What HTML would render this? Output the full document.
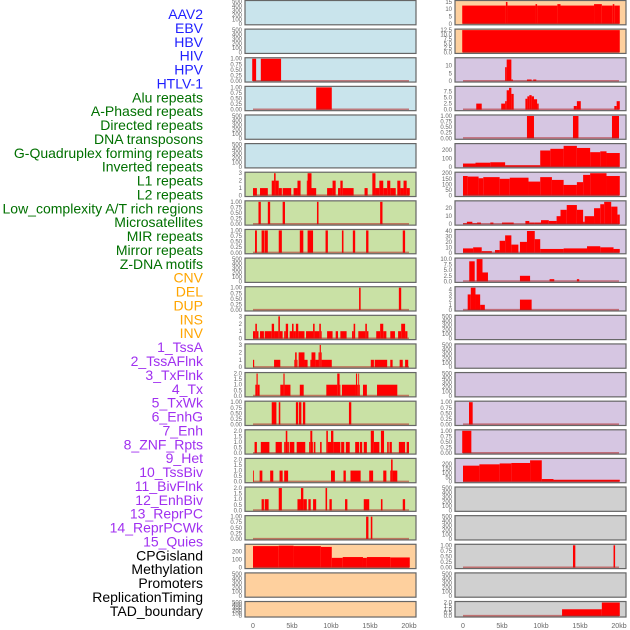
<!DOCTYPE html>
<html><head><meta charset="utf-8">
<style>
html,body{margin:0;padding:0;background:#fff;}
svg{display:block;font-family:"Liberation Sans",sans-serif;}
</style></head>
<body>
<svg id="chart" width="630" height="630" viewBox="0 0 630 630"></svg>
<script>
// ---------- data ----------
const trackLabels = ["AAV2","EBV","HBV","HIV","HPV","HTLV-1","Alu repeats","A-Phased repeats","Directed repeats","DNA transposons","G-Quadruplex forming repeats","Inverted repeats","L1 repeats","L2 repeats","Low_complexity A/T rich regions","Microsatellites","MIR repeats","Mirror repeats","Z-DNA motifs","CNV","DEL","DUP","INS","INV","1_TssA","2_TssAFlnk","3_TxFlnk","4_Tx","5_TxWk","6_EnhG","7_Enh","8_ZNF_Rpts","9_Het","10_TssBiv","11_BivFlnk","12_EnhBiv","13_ReprPC","14_ReprPCWk","15_Quies","CPGisland","Methylation","Promoters","ReplicationTiming","TAD_boundary"];
const labelGroups = [6,13,5,15,5];
const groupColors = ["#1f1fff","#007000","#ffa500","#a030f0","#000000"];
const xTickValues = [0,5,10,15,20];
const xTickLabels = ["0","5kb","10kb","15kb","20kb"];

const T500 = ["0","100","200","300","400","500"];
const T1 = ["0.00","0.25","0.50","0.75","1.00"];
const T3 = ["0","1","2","3"];
const T2 = ["0.0","0.5","1.0","1.5","2.0"];

// segments: [startKb, endKb, value]
const L03 = [[-0.1,0.4,1],[1.0,3.6,1]];
const L04 = [[8.1,10.1,1]];
const L07 = [[0,0.5,1],[0.9,1.9,1],[2.4,2.7,2],[2.7,2.9,3],[2.9,3.3,2],[3.3,3.7,1],[3.8,4.9,1],[5.2,5.7,1],[5.7,6.1,2],[6.9,7.0,2],[7.0,7.5,3],[7.5,8.1,1],[9.5,10.2,1],[10.2,10.6,2],[10.9,11.2,1],[11.2,11.5,2],[11.5,12.9,1],[14.3,14.7,1],[15.3,15.7,3],[15.7,16.2,1],[16.2,16.7,2],[16.7,17.2,1],[17.2,17.6,2],[17.6,18.3,1],[18.5,18.9,2],[18.9,19.3,1],[19.3,19.7,2],[19.7,20.1,1]];
const L08 = [[0.7,1.0,1],[1.9,2.2,1],[3.8,4.1,1],[8.2,8.4,1],[16.3,16.6,1]];
const L09 = [[0.26,0.5,1],[1.1,1.45,1],[1.5,1.9,1],[3.3,3.7,1],[6.0,6.45,1],[7.0,7.7,1],[9.3,9.6,1],[11.4,11.6,1],[12.8,13.1,1],[14.5,14.8,1],[19.2,19.5,1]];
const L11 = [[13.6,13.8,1],[18.7,19.0,1]];
const L12 = [[0,0.3,1],[0.3,0.5,2],[0.5,0.7,1],[0.9,1.4,1],[1.5,2.4,1],[2.4,2.7,2],[2.7,3.25,1],[3.25,3.45,3],[3.45,3.8,1],[4.0,4.2,1],[4.2,4.5,2],[4.7,5.0,1],[5.0,5.2,2],[5.2,5.5,1],[5.5,5.8,2],[5.8,6.6,1],[6.8,7.7,1],[7.7,7.9,2],[7.9,8.5,1],[8.5,8.7,2],[8.7,8.8,1],[9.5,10.2,1],[10.6,10.9,1],[11.2,12.0,1],[12.7,12.9,1],[12.9,13.1,2],[13.5,14.4,1],[14.4,14.6,2],[14.6,14.8,1],[15.8,16.3,1],[16.3,16.7,2],[16.7,17.1,1],[17.6,18.2,1],[18.6,19.0,1],[19.0,19.5,2],[19.5,19.8,1]];
const L13 = [[0,0.15,1],[2.7,3.5,1],[5.3,5.4,1],[5.4,5.6,2],[5.6,5.7,1],[5.85,6.6,2],[6.6,7.0,1],[7.35,7.5,1],[7.5,8.0,2],[8.0,8.4,1],[8.4,8.55,2],[8.55,8.7,3],[8.7,8.8,2],[8.8,10.1,1],[15.1,15.5,1],[15.6,17.2,1],[17.6,17.9,1],[18.8,19.2,1],[19.5,19.9,1]];
const L14 = [[0.3,0.45,1],[0.45,0.6,2],[0.6,0.85,1],[3.5,3.9,1],[3.9,4.05,2],[4.05,4.8,1],[6.0,6.5,1],[9.4,10.8,1],[10.8,11.1,2],[11.1,11.2,1],[11.4,13.2,1],[13.2,13.35,2],[13.35,13.5,1],[13.5,13.6,2],[13.6,13.7,1],[14.1,14.6,1],[15.9,18.5,1]];
const L15 = [[2.4,3.0,1],[3.3,3.5,1],[5.5,5.8,1],[5.9,6.2,1],[6.4,6.7,1],[12.3,12.6,1]];
const L16 = [[0.2,0.5,1],[1.0,2.1,1],[2.9,3.7,1],[4.0,4.2,1],[4.2,4.4,2],[4.4,4.6,1],[4.7,5.3,1],[5.6,6.7,1],[7.2,7.35,1],[7.35,7.6,2],[7.6,7.7,1],[7.8,8.0,1],[8.6,8.8,1],[9.4,9.6,2],[9.6,10.0,1],[10.0,10.3,2],[10.3,11.2,1],[11.3,11.7,1],[11.9,12.4,1],[13.1,13.6,1],[13.7,14.0,1],[14.2,14.6,1],[15.1,15.5,2],[15.5,16.2,1],[16.4,16.8,2],[17.2,17.4,1],[17.5,17.8,1],[18.7,19.5,1],[19.7,20.0,1]];
const L17 = [[0,0.1,1],[0.85,1.2,1],[2.2,2.6,1],[3.4,3.8,1],[4.0,4.5,1],[10.0,10.5,1],[11.6,11.9,1],[12.5,13.8,1],[14.9,15.4,1],[16.7,17.1,1],[17.6,17.7,1],[17.7,17.9,2],[17.9,18.5,1]];
const L18 = [[1.1,1.4,1],[1.5,2.0,1],[3.3,3.7,2],[5.7,6.15,1],[6.15,6.45,2],[6.45,6.9,1],[7.1,7.4,1],[7.7,8.1,1],[9.3,9.5,2],[9.8,10.1,1],[11.8,12.1,1],[14.2,14.9,1],[16.4,16.6,1],[19.2,19.5,1]];
const L19 = [[14.5,14.8,1],[15.1,15.3,1]];
const L20 = [[0,3.3,265],[3.3,5.2,270],[5.2,8.7,265],[8.7,10.1,255],[10.1,11.5,120],[11.5,14.1,130],[14.1,14.6,120],[14.6,17.6,130],[17.6,20.1,125]];

const R01 = [[-0.1,5.5,12.5],[5.5,5.7,15],[5.7,9.3,12.5],[9.3,9.5,13.5],[9.5,12.1,12.5],[12.1,12.5,13.5],[12.5,16.8,12.5],[16.8,17.8,13.5],[17.8,19.2,12.5],[19.2,19.4,13.5],[19.4,20.1,12.5]];
const R02 = [[-0.1,20.1,12.5]];
const R03 = [[5.4,5.6,9],[5.6,6.2,14],[6.2,6.4,1],[8.2,8.8,1],[9.0,9.4,1]];
const R04 = [[1.7,2.4,2.5],[4.9,5.4,2.5],[5.4,5.6,3.5],[5.6,5.9,8],[5.9,6.2,9],[6.2,6.5,6.5],[8.0,8.25,4.5],[8.25,8.5,5.5],[8.5,8.8,6],[8.8,9.1,5.5],[9.1,9.5,4.3],[9.5,9.7,2.5],[14.2,14.6,1.5],[14.6,15.1,3.5],[19.4,19.7,1.5],[19.7,20.1,3.5]];
const R05 = [[8.2,9.1,1],[14.1,14.8,1],[19.1,20.0,1]];
const R06 = [[0,1.6,40],[1.6,3.5,50],[3.5,5.4,55],[5.4,9.9,20],[9.9,11.2,195],[11.2,12.9,215],[12.9,14.6,250],[14.6,16.3,225],[16.3,17.6,175],[17.6,18.4,185],[18.4,20.1,165]];
const R07 = [[0,0.6,175],[0.6,2.0,170],[2.0,2.6,155],[2.6,4.7,165],[4.7,6.0,150],[6.0,8.4,160],[8.4,9.9,125],[9.9,11.4,165],[11.4,12.9,140],[12.9,14.6,95],[14.6,15.4,120],[15.4,16.3,185],[16.3,18.4,200],[18.4,20.1,175]];
const R08 = [[0,0.5,1],[0.5,1.2,3],[1.2,1.8,1],[1.8,2.3,2],[3.5,3.9,2],[5.0,6.5,2],[8.0,8.5,4],[8.5,9.2,2],[9.2,10.0,2],[10.0,11.0,5],[11.0,12.0,4],[12.0,12.5,10],[12.5,13.3,18],[13.3,14.6,24],[14.6,15.4,18],[15.4,15.6,3],[15.6,16.8,10],[16.8,17.6,20],[17.6,18.1,25],[18.1,19.0,28],[19.0,19.8,22],[19.8,20.1,12]];
const R09 = [[0,1.3,8],[1.3,2.4,10],[2.4,3.7,3],[4.1,4.7,5],[4.7,5.4,22],[5.4,6.2,32],[6.2,7.1,15],[7.3,8.2,20],[8.2,9.2,40],[9.2,9.9,25],[9.9,12.9,7],[12.9,15.9,8],[15.9,17.6,12],[17.6,19.3,10],[19.3,20.1,7]];
const R10 = [[0.8,1.5,9],[1.75,2.5,10],[2.5,3.2,4],[7.3,8.6,2.5],[11.1,11.7,1],[14.6,14.9,1]];
const R11 = [[0.6,1.0,3],[1.0,1.6,4.3],[1.6,2.2,3],[2.2,2.8,1],[7.3,8.8,2]];
const R15 = [[0.77,1.24,1]];
const R16 = [[-0.1,1.07,1]];
const R17 = [[0,2.1,180],[2.1,4.7,195],[4.7,6.2,205],[6.2,8.6,210],[8.6,10.1,240],[10.1,11.6,30],[11.6,20.1,22]];
const R20 = [[14.1,14.4,1],[19.3,19.5,1]];
const R22 = [[12.7,17.8,1],[17.8,20.1,2]];

const C_BLUE="#c9e4ec", C_GREEN="#c9e1a5", C_ORANGE="#fed09e", C_LAV="#d6c6e2", C_GREY="#d0d0d0";

const leftPanels = [
 {bg:C_BLUE,ymax:500,ticks:T500,segs:null},
 {bg:C_BLUE,ymax:500,ticks:T500,segs:null},
 {bg:C_BLUE,ymax:1,ticks:T1,segs:L03},
 {bg:C_BLUE,ymax:1,ticks:T1,segs:L04},
 {bg:C_BLUE,ymax:500,ticks:T500,segs:null},
 {bg:C_BLUE,ymax:500,ticks:T500,segs:null},
 {bg:C_GREEN,ymax:3,ticks:T3,segs:L07},
 {bg:C_GREEN,ymax:1,ticks:T1,segs:L08},
 {bg:C_GREEN,ymax:1,ticks:T1,segs:L09},
 {bg:C_GREEN,ymax:500,ticks:T500,segs:null},
 {bg:C_GREEN,ymax:1,ticks:T1,segs:L11},
 {bg:C_GREEN,ymax:3,ticks:T3,segs:L12},
 {bg:C_GREEN,ymax:3,ticks:T3,segs:L13},
 {bg:C_GREEN,ymax:2,ticks:T2,segs:L14},
 {bg:C_GREEN,ymax:1,ticks:T1,segs:L15},
 {bg:C_GREEN,ymax:2,ticks:T2,segs:L16},
 {bg:C_GREEN,ymax:2,ticks:T2,segs:L17},
 {bg:C_GREEN,ymax:2,ticks:T2,segs:L18},
 {bg:C_GREEN,ymax:1,ticks:T1,segs:L19},
 {bg:C_ORANGE,ymax:275,ticks:["0","100","200"],segs:L20},
 {bg:C_ORANGE,ymax:500,ticks:T500,segs:null},
 {bg:C_ORANGE,ymax:500,ticks:T500,segs:null}
];
const rightPanels = [
 {bg:C_ORANGE,ymax:15.3,ticks:["0","5","10","15"],segs:R01},
 {bg:C_ORANGE,ymax:12.5,ticks:["0.0","2.5","5.0","7.5","10.0","12.5"],segs:R02},
 {bg:C_LAV,ymax:14.5,ticks:["0","5","10"],segs:R03},
 {bg:C_LAV,ymax:9.2,ticks:["0.0","2.5","5.0","7.5"],segs:R04},
 {bg:C_LAV,ymax:1,ticks:T1,segs:R05},
 {bg:C_LAV,ymax:265,ticks:["0","100","200"],segs:R06},
 {bg:C_LAV,ymax:200,ticks:["0","50","100","150","200"],segs:R07},
 {bg:C_LAV,ymax:28,ticks:["0","10","20"],segs:R08},
 {bg:C_LAV,ymax:41,ticks:["0","10","20","30","40"],segs:R09},
 {bg:C_LAV,ymax:10,ticks:["0.0","2.5","5.0","7.5","10.0"],segs:R10},
 {bg:C_LAV,ymax:4.3,ticks:["0","1","2","3","4"],segs:R11},
 {bg:C_LAV,ymax:500,ticks:T500,segs:null},
 {bg:C_LAV,ymax:500,ticks:T500,segs:null},
 {bg:C_LAV,ymax:500,ticks:T500,segs:null},
 {bg:C_LAV,ymax:1,ticks:T1,segs:R15},
 {bg:C_LAV,ymax:1,ticks:T1,segs:R16},
 {bg:C_LAV,ymax:250,ticks:["0","50","100","150","200"],segs:R17},
 {bg:C_GREY,ymax:500,ticks:T500,segs:null},
 {bg:C_GREY,ymax:500,ticks:T500,segs:null},
 {bg:C_GREY,ymax:1,ticks:T1,segs:R20},
 {bg:C_GREY,ymax:500,ticks:T500,segs:null},
 {bg:C_GREY,ymax:2,ticks:T2,segs:R22}
];

// ---------- drawing ----------
const NS="http://www.w3.org/2000/svg";
const svg=document.getElementById("chart");
function mk(tag,attrs,parent){const e=document.createElementNS(NS,tag);for(const k in attrs)e.setAttribute(k,attrs[k]);(parent||svg).appendChild(e);return e;}

// left labels
let idx=0;
labelGroups.forEach((n,g)=>{
  for(let i=0;i<n;i++){
    const t=mk("text",{x:203,y:19+idx*13.88,"text-anchor":"end","font-size":"14",fill:groupColors[g]});
    t.textContent=trackLabels[idx];
    
    
    idx++;
  }
});

function rowTop(i){return 0.5+i*28.62;}
function rowH(i){return i===21?15.5:24.3;}

function drawPanel(p,i,x0,zeroX){
  const top=rowTop(i),h=rowH(i),w=171;
  const g=mk("g",{});
  
  
  const bg=mk("rect",{x:x0,y:top,width:w,height:h,fill:p.bg},g);
  
  
  const xs=kb=>zeroX+kb*7.8;
  const ys=v=>top+h-1-(v/p.ymax)*(h-2);
  if(p.segs){
    p.segs.forEach(s=>{
      const r=mk("rect",{x:xs(s[0]),y:ys(s[2]),width:Math.max(0.8,xs(s[1])-xs(s[0])),height:ys(0)-ys(s[2]),fill:"#ff0000"},g);
      
      
    });
    const bl=mk("line",{x1:xs(0),x2:xs(20),y1:top+h-1.3,y2:top+h-1.3,stroke:"#b22222","stroke-width":"1.6","stroke-opacity":"0.55"},g);
    
    
  }
  const fr=mk("rect",{x:x0,y:top,width:w,height:h,fill:"none",stroke:"#666","stroke-width":"1.2"},g);
  
  
  p.ticks.forEach(lbl=>{
    const v=parseFloat(lbl);
    const t=mk("text",{x:x0-3,y:ys(v)+2,"text-anchor":"end","font-size":"6",fill:"#666"},g);
    t.textContent=lbl;
    
    
  });
}
leftPanels.forEach((p,i)=>drawPanel(p,i,245,253));
rightPanels.forEach((p,i)=>drawPanel(p,i,455,463));

// x axes
[253,463].forEach(z=>{
  xTickValues.forEach((v,k)=>{
    const t=mk("text",{x:z+v*7.8,y:628,"text-anchor":"middle","font-size":"7",fill:"#666"});
    t.textContent=xTickLabels[k];
    
    
  });
});
</script>
</body></html>
